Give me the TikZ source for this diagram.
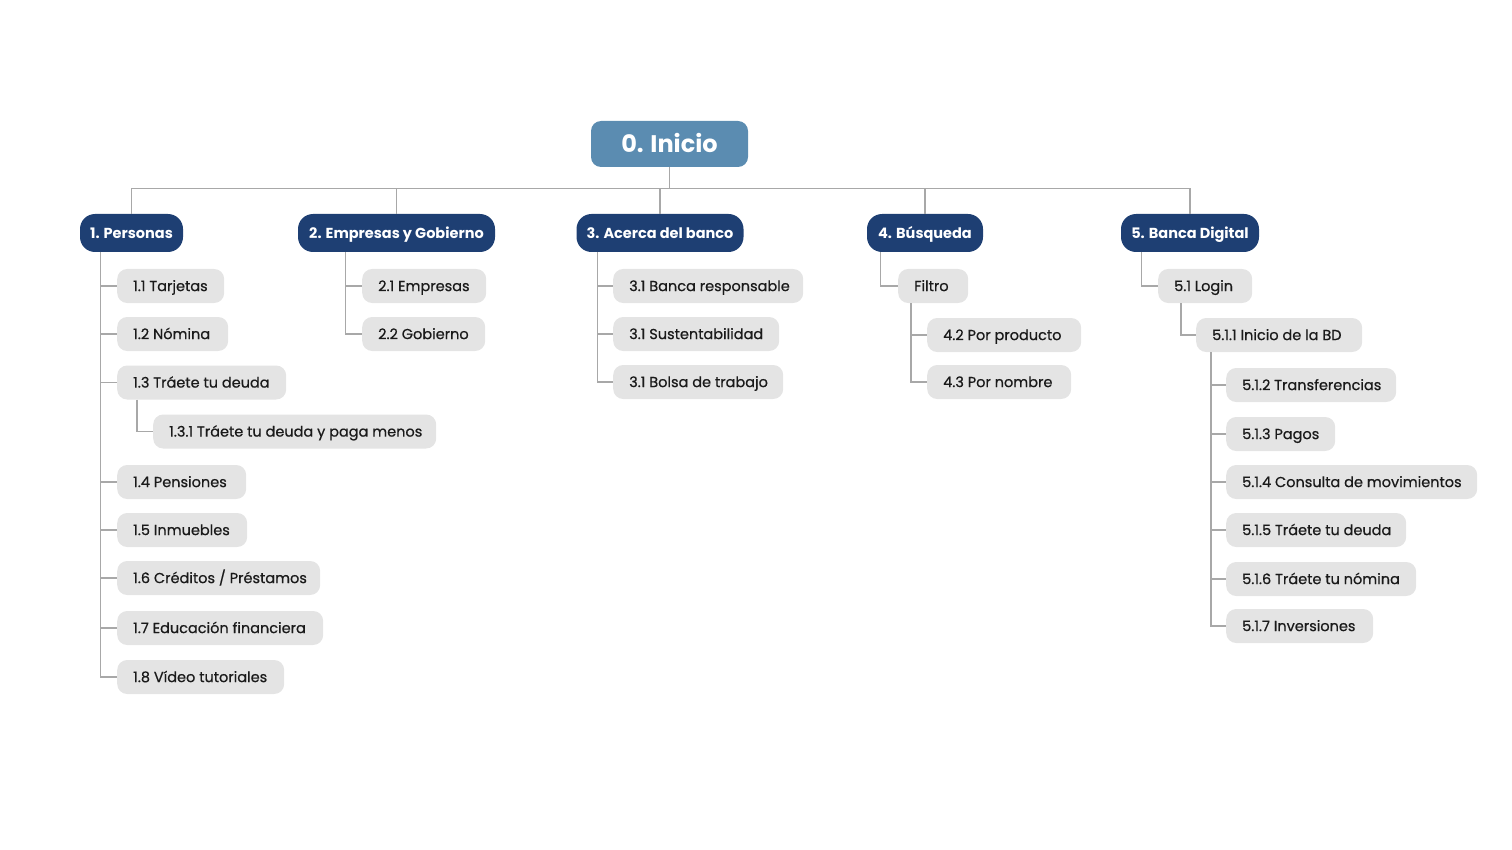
\documentclass[tikz,border=0pt]{standalone}
\usepackage{fontspec}
\setmainfont{Poppins}
\newfontfamily\medfont{Poppins}[FakeBold=0.6]
\definecolor{navy}{HTML}{1E3F73}
\definecolor{rootblue}{HTML}{5B8CB1}
\definecolor{boxgray}{HTML}{E4E4E4}
\definecolor{linegray}{HTML}{A8A8A8}
\definecolor{txt}{HTML}{1A1A1A}
\newcommand\gtext[2]{\makebox[#1][l]{#2}}
\begin{document}
\begin{tikzpicture}[x=1pt,y=-1pt,
  rootbox/.style={fill=rootblue, text=white, font=\fontsize{24}{28}\selectfont\bfseries,
    rounded corners=10pt, minimum width=157pt, minimum height=46pt, inner sep=0pt,
    text height=17pt, text depth=0pt},
  lonebox/.style={fill=navy, text=white, font=\fontsize{14.5}{17}\selectfont\bfseries,
    rounded corners=15pt, minimum height=38pt, inner sep=0pt, minimum width=#1,
    text height=10.2pt, text depth=0pt},
  gbox/.style={fill=boxgray, text=txt, font=\medfont\fontsize{14.5}{17}\selectfont,
    rounded corners=10pt, minimum height=34pt, inner ysep=0pt, inner xsep=16pt,
    anchor=west, text height=10.2pt, text depth=0pt},
  conn/.style={draw=linegray, line width=1.3pt}
]
\useasboundingbox (0,0) rectangle (1512,850);

% root
\node[rootbox] (root) at (669.5,144) {0. Inicio};

% level 1
\node[lonebox=103pt] (p1) at (131.5,233) {1. Personas};
\node[lonebox=197pt] (p2) at (396.5,233) {2. Empresas y Gobierno};
\node[lonebox=167pt] (p3) at (660,233) {3. Acerca del banco};
\node[lonebox=116pt] (p4) at (925,233) {4. Búsqueda};
\node[lonebox=138pt] (p5) at (1190,233) {5. Banca Digital};

% 1. Personas
\node[gbox] (c11)  at (117,286)   {\gtext{75pt}{1.1 Tarjetas}};
\node[gbox] (c12)  at (117,334)   {\gtext{79pt}{1.2 Nómina}};
\node[gbox] (c13)  at (117,382.5) {\gtext{137pt}{1.3 Tráete tu deuda}};
\node[gbox] (c131) at (153,431.5) {\gtext{251pt}{1.3.1 Tráete tu deuda y paga menos}};
\node[gbox] (c14)  at (117,482)   {\gtext{97pt}{1.4 Pensiones}};
\node[gbox] (c15)  at (117,530)   {\gtext{98pt}{1.5 Inmuebles}};
\node[gbox] (c16)  at (117,578)   {\gtext{171pt}{1.6 Créditos / Préstamos}};
\node[gbox] (c17)  at (117,628)   {\gtext{174pt}{1.7 Educación financiera}};
\node[gbox] (c18)  at (117,677)   {\gtext{135pt}{1.8 Vídeo tutoriales}};

% 2. Empresas
\node[gbox] (c21) at (362,286) {\gtext{92pt}{2.1 Empresas}};
\node[gbox] (c22) at (362,334) {\gtext{91pt}{2.2 Gobierno}};

% 3. Acerca
\node[gbox] (c31) at (613,286) {\gtext{158pt}{3.1 Banca responsable}};
\node[gbox] (c32) at (613,334) {\gtext{134pt}{3.1 Sustentabilidad}};
\node[gbox] (c33) at (613,382) {\gtext{138pt}{3.1 Bolsa de trabajo}};

% 4. Busqueda
\node[gbox] (c4f) at (898,286) {\gtext{38pt}{Filtro}};
\node[gbox] (c42) at (927,335) {\gtext{122pt}{4.2 Por producto}};
\node[gbox] (c43) at (927,382) {\gtext{112pt}{4.3 Por nombre}};

% 5. Banca Digital
\node[gbox] (c51)  at (1158,286) {\gtext{62pt}{5.1 Login}};
\node[gbox] (c511) at (1196,335) {\gtext{134pt}{5.1.1 Inicio de la BD}};
\node[gbox] (c512) at (1226,385) {\gtext{138pt}{5.1.2 Transferencias}};
\node[gbox] (c513) at (1226,434) {\gtext{77pt}{5.1.3 Pagos}};
\node[gbox] (c514) at (1226,482) {\gtext{219pt}{5.1.4 Consulta de movimientos}};
\node[gbox] (c515) at (1226,530) {\gtext{148pt}{5.1.5 Tráete tu deuda}};
\node[gbox] (c516) at (1226,579) {\gtext{158pt}{5.1.6 Tráete tu nómina}};
\node[gbox] (c517) at (1226,626) {\gtext{115pt}{5.1.7 Inversiones}};

% connectors: root to level 1
\foreach \p in {p1,p2,p3,p4,p5}
  \draw[conn] (root.south) -- ++(0,21) -| (\p.north);

% Personas
\foreach \c in {c11,c12,c13,c14,c15,c16,c17,c18}
  \draw[conn] ([xshift=21pt]p1.south west) |- (\c.west);
\draw[conn] ([xshift=20pt]c13.south west) |- (c131.west);

% Empresas
\foreach \c in {c21,c22}
  \draw[conn] ([xshift=48pt]p2.south west) |- (\c.west);

% Acerca
\foreach \c in {c31,c32,c33}
  \draw[conn] ([xshift=21pt]p3.south west) |- (\c.west);

% Busqueda
\draw[conn] ([xshift=14pt]p4.south west) |- (c4f.west);
\foreach \c in {c42,c43}
  \draw[conn] ([xshift=13pt]c4f.south west) |- (\c.west);

% Banca Digital
\draw[conn] ([xshift=21pt]p5.south west) |- (c51.west);
\draw[conn] ([xshift=23pt]c51.south west) |- (c511.west);
\foreach \c in {c512,c513,c514,c515,c516,c517}
  \draw[conn] ([xshift=15pt]c511.south west) |- (\c.west);
\end{tikzpicture}
\end{document}
